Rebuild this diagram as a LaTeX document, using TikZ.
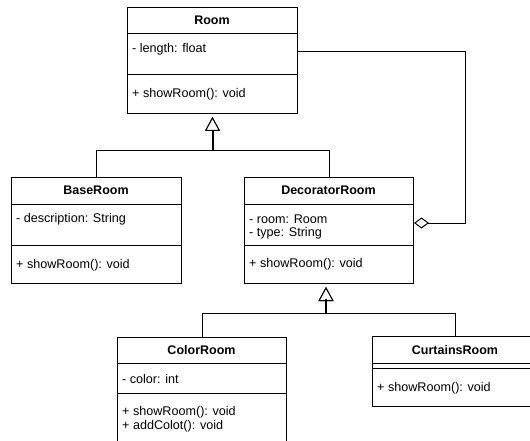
\documentclass[tikz,border=0pt]{standalone}
\usepackage{fontspec}
\setmainfont{Liberation Sans}
\usetikzlibrary{arrows.meta}
\begin{document}
\begin{tikzpicture}[x=1pt,y=-1pt,
  umlbox/.style={draw=black, line width=1pt, fill=white, inner sep=0pt, anchor=north west},
  divider/.style={draw=black, line width=1pt},
  classname/.style={font=\fontsize{12.5}{14}\selectfont\bfseries, inner sep=0pt, text=black},
  member/.style={font=\fontsize{12.6}{14}\selectfont, inner sep=0pt, anchor=west, text=black, yshift=-1.5pt},
  inherit/.style={draw=black, line width=1pt, -{Triangle[open, fill=white, length=14pt, width=15pt]}, shorten >=3pt},
  trunk/.style={draw=black, line width=2pt},
  aggregate/.style={draw=black, line width=1pt, -{Diamond[open, fill=white, length=15pt, width=11pt]}}
]
\useasboundingbox (0,0) rectangle (530,441);
\clip (0,0) rectangle (530,441);
\fill[white] (0,0) rectangle (530,441);

% Room
\node[umlbox, minimum width=170pt, minimum height=106pt] (room) at (127,7) {};
\draw[divider] (127,34) -- (297,34);
\draw[divider] (127,75) -- (297,75);
\node[classname] (roomname) at (212,20.5) {Room};
\node[member] (roomattr) at (132,48) {- length: float};
\node[member] (roomop) at (132,93) {+ showRoom(): void};

% BaseRoom
\node[umlbox, minimum width=170pt, minimum height=106pt] (base) at (11,177) {};
\draw[divider] (11,204) -- (181,204);
\draw[divider] (11,245) -- (181,245);
\node[classname] (basename) at (96,190.5) {BaseRoom};
\node[member] (baseattr) at (16,218) {- description: String};
\node[member] (baseop) at (16,264) {+ showRoom(): void};

% DecoratorRoom
\node[umlbox, minimum width=169pt, minimum height=106pt] (deco) at (244,177) {};
\draw[divider] (244,204) -- (413,204);
\draw[divider] (244,245) -- (413,245);
\node[classname] (deconame) at (328.5,190.5) {DecoratorRoom};
\node[member] (decoattra) at (249,218) {- room: Room};
\node[member] (decoattrb) at (249,232) {- type: String};
\node[member] (decoop) at (249,263) {+ showRoom(): void};

% ColorRoom
\node[umlbox, minimum width=169pt, minimum height=118pt] (color) at (117,337) {};
\draw[divider] (117,363) -- (286,363);
\draw[divider] (117,393) -- (286,393);
\node[classname] (colorname) at (201.5,350) {ColorRoom};
\node[member] (colorattr) at (122,377) {- color: int};
\node[member] (colorop) at (122,411) {+ showRoom(): void};
\node[member] (coloradd) at (122,425) {+ addColot(): void};

% CurtainsRoom
\node[umlbox, minimum width=166pt, minimum height=70pt] (curt) at (372,336) {};
\draw[divider] (372,363) -- (538,363);
\draw[divider] (372,368) -- (538,368);
\node[classname] (curtname) at (455,350) {CurtainsRoom};
\node[member] (curtop) at (377,387) {+ showRoom(): void};

% Generalisation: BaseRoom and DecoratorRoom extend Room
\coordinate (j1) at (212.5,151);
\coordinate (t1) at (212.5,130);
\draw[inherit] (base.north) |- (j1) -- (room.south -| j1);
\draw[inherit] (deco.north) |- (j1) -- (room.south -| j1);
\draw[trunk] (j1) -- (t1);

% Generalisation: ColorRoom and CurtainsRoom extend DecoratorRoom
\coordinate (j2) at (326,313);
\coordinate (t2) at (326,299);
\draw[inherit] (color.north) |- (j2) -- (deco.south -| j2);
\draw[inherit] (curt.north) |- (j2) -- (deco.south -| j2);
\draw[trunk] (j2) -- (t2);

% Aggregation: DecoratorRoom holds a Room
\coordinate (a1) at (465,52);
\coordinate (a2) at (465,223);
\draw[aggregate] (room.east |- a1) -- (a1) -- (a2) -- (deco.east |- a2);
\end{tikzpicture}
\end{document}
